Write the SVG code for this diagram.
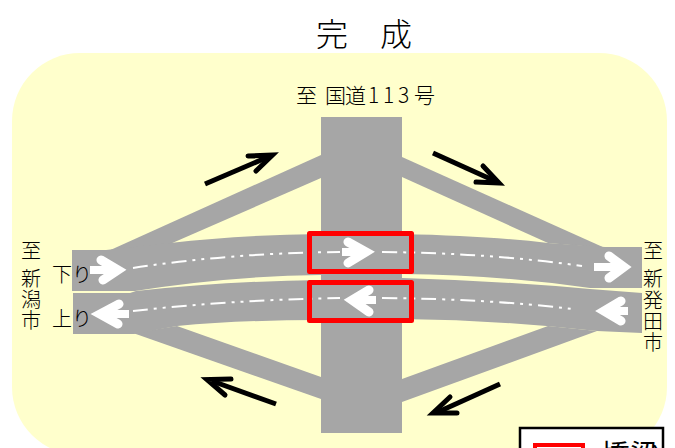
<svg xmlns="http://www.w3.org/2000/svg" width="675" height="448" viewBox="0 0 675 448">
<defs><style>
.t{font-family:"Noto Sans CJK JP","Liberation Sans",sans-serif;fill:#000;font-weight:300}
.road{fill:#a6a6a6}
.dash{fill:none;stroke:#fff;stroke-width:2;stroke-dasharray:15 6 3 6 3 6}
.wa{fill:none;stroke:#fff;stroke-width:9;stroke-linecap:round;stroke-linejoin:miter;stroke-miterlimit:10}
.ws{stroke:#fff;stroke-width:8;fill:none}
.ba{fill:none;stroke:#000;stroke-width:5;stroke-linecap:round;stroke-linejoin:miter;stroke-miterlimit:10}
.bs{stroke:#000;stroke-width:5;fill:none}
.red{fill:none;stroke:#f00;stroke-width:5;stroke-linejoin:round}
</style></defs>
<rect id="ground" x="12" y="53" width="655" height="402" rx="68" ry="68" fill="#ffffcc"/>
<g id="title"><text class="t" x="364" y="46" font-size="32" text-anchor="middle">完　成</text></g>
<g id="label-north"><text class="t" x="296 325 345 368 383 398 414" y="103" font-size="21">至国道113号</text></g>
<g id="roads">
<path id="ramp-nw" class="road" d="M321 155V178L170 244L106 252Z"/>
<path id="ramp-ne" class="road" d="M402 157V177L548 243L605 248Z"/>
<path id="ramp-sw" class="road" d="M133 333L177 326L321 377V399Z"/>
<path id="ramp-se" class="road" d="M597 331L548 326L402 379V402Z"/>
<rect id="road-113" class="road" x="321" y="117" width="81" height="316"/>
<path id="road-down" class="road" d="M72 250H106L170 243Q240 235 321 234L402 234Q490 236 548 243L605 247H642V288H590Q500 275 402 274L321 275Q230 276 135 291H72Z"/>
<path id="road-up" class="road" d="M73 293H130L136 291Q230 281 321 280L402 278Q500 281 590 289L642 293V333L597 331Q500 320 402 319L321 320Q240 320 177 326L134 334H73Z"/>
</g>
<g id="connectors">
<path class="dash" d="M133 268Q230 253 340 252"/><path class="dash" d="M382 252Q490 253 582 266"/>
<path class="dash" d="M133 311Q230 300 340 298"/><path class="dash" d="M382 298Q490 299 572 309"/>
<path class="ws" d="M90 270H118M342 252H366M594 267H624"/><path class="wa" d="M101 260L118 270L103 280M348 242L366 252L348 263M609 256L624 267L609 278"/>
<path class="ws" d="M100 314H129M352 300H376M604 311H628"/><path class="wa" d="M119 304L100 314L118 324M369 290L352 300L369 312M621 301L604 311L621 321"/>
<path class="bs" d="M205 184L268 157"/><path class="ba" d="M248 156L272.500 155L256 171"/>
<path class="bs" d="M433 153L495 181"/><path class="ba" d="M483 166L499 183L476 182"/>
<path class="bs" d="M276 404L212 381"/><path class="ba" d="M231 379L207 379.500L225 395"/>
<path class="bs" d="M500 384L438 412"/><path class="ba" d="M450 397L433 413L457 413"/>
</g>
<g id="bridges">
<rect id="bridge-down" class="red" x="309.500" y="233.500" width="102" height="38"/>
<rect id="bridge-up" class="red" x="309.500" y="282.500" width="102" height="38"/>
</g>
<g id="labels-west">
<text class="t" x="21 21 21 21" y="258 286 307 328" font-size="20">至新潟市</text>
<text class="t" x="52" y="282" font-size="20">下り</text>
<text class="t" x="52" y="326" font-size="20">上り</text>
</g>
<g id="labels-east">
<text class="t" x="643 643 643 643 643" y="258 286 308 329 350" font-size="20">至新発田市</text>
</g>
<g id="legend">
<rect x="520" y="428" width="143" height="40" fill="#fff" stroke="#000" stroke-width="2.500"/>
<rect x="535" y="445" width="48" height="20" fill="none" stroke="#f00" stroke-width="4"/>
<text class="t" x="600" y="466" font-size="30" style="font-weight:400">橋梁</text>
</g>
</svg>
